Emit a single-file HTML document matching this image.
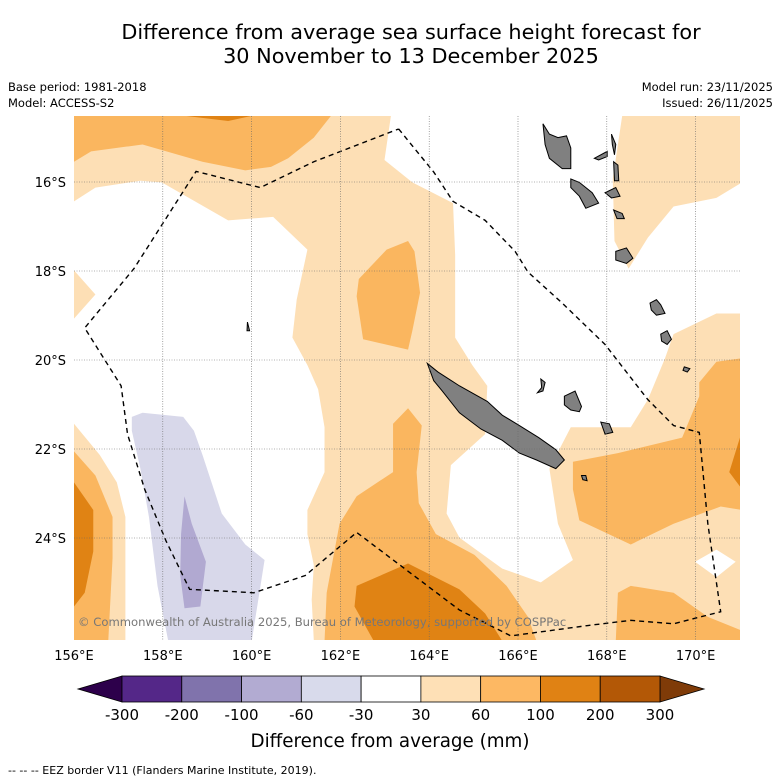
<!DOCTYPE html>
<html><head><meta charset="utf-8"><style>
body{margin:0;background:#fff;width:781px;height:781px;overflow:hidden;font-family:"DejaVu Sans","Liberation Sans",sans-serif}
svg{display:block}
</style></head><body>
<svg id="chart" width="781" height="781" viewBox="0 0 781 781" xmlns="http://www.w3.org/2000/svg" font-family="DejaVu Sans, Liberation Sans, sans-serif">
<text x="411" y="39" font-size="20.8" text-anchor="middle">Difference from average sea surface height forecast for</text>
<text x="411" y="63" font-size="20.8" text-anchor="middle">30 November to 13 December 2025</text>
<text x="8" y="91" font-size="11.5">Base period: 1981-2018</text>
<text x="8" y="107" font-size="11.5">Model: ACCESS-S2</text>
<text x="773" y="91" font-size="11.5" text-anchor="end">Model run: 23/11/2025</text>
<text x="773" y="107" font-size="11.5" text-anchor="end">Issued: 26/11/2025</text>
<defs><clipPath id="mapclip"><rect x="74" y="116" width="666" height="524"/></clipPath></defs>
<g clip-path="url(#mapclip)">
<rect x="74" y="116" width="666" height="524" fill="#fddfb5"/>
<g transform="translate(74,110) scale(0.42827,0.34483)">
<polygon fill="#ffffff" points="0,265 50,225 155,205 205,210 360,320 465,310 545,405 520,550 510,660 545,740 570,810 585,920 585,1050 545,1160 545,1230 560,1320 555,1420 560,1540 120,1540 120,1180 100,1080 60,1000 0,910 0,605 50,535 0,465"/>
<polygon fill="#ffffff" points="740,17 1280,17 1258,200 1262,380 1295,460 1340,370 1400,280 1500,255 1560,210 1560,590 1500,590 1400,650 1380,720 1340,840 1300,920 1160,920 1110,1040 1130,1200 1165,1305 1090,1370 1000,1330 900,1240 870,1170 880,1030 960,940 965,800 930,740 890,660 890,420 885,270 790,210 725,145"/>
<polygon fill="#ffffff" points="1450,1310 1500,1275 1545,1310 1500,1355"/>
<polygon fill="#fab65f" points="0,17 600,17 560,80 500,140 460,165 400,175 300,150 160,100 40,120 0,150"/>
<polygon fill="#e08314" points="260,17 415,17 360,32"/>
<polygon fill="#fab65f" points="665,490 730,405 780,380 795,410 808,530 790,640 780,695 675,665 660,540"/>
<polygon fill="#fab65f" points="0,990 50,1060 90,1180 90,1300 80,1540 0,1540"/>
<polygon fill="#e08314" points="0,1080 45,1160 45,1280 25,1400 0,1440"/>
<polygon fill="#fab65f" points="745,910 780,865 812,915 800,1050 805,1140 845,1230 935,1290 1010,1380 1060,1470 1080,1540 585,1540 590,1400 620,1200 660,1120 745,1050"/>
<polygon fill="#e08314" points="660,1380 780,1315 900,1390 960,1460 1000,1540 700,1540 655,1440"/>
<polygon fill="#fab65f" points="1165,1020 1270,995 1420,950 1460,830 1460,790 1500,730 1560,720 1560,1160 1510,1150 1400,1200 1300,1260 1180,1190 1165,1100"/>
<polygon fill="#e08314" points="1560,930 1530,1050 1560,1100"/>
<polygon fill="#fab65f" points="1270,1400 1300,1380 1400,1400 1480,1470 1560,1510 1560,1540 1265,1540"/>
<polygon fill="#d8d8ea" points="135,890 160,878 255,890 280,930 300,1000 345,1170 400,1260 445,1305 415,1540 220,1540 195,1380 175,1180 155,1040 135,930"/>
<polygon fill="#b1a9d1" points="258,1120 275,1200 308,1310 295,1440 258,1445 248,1350 250,1230"/>
<g fill="#808080" stroke="#000" stroke-width="1">
<polygon vector-effect="non-scaling-stroke" points="825,735 850,760 900,800 965,845 1000,885 1040,915 1085,950 1125,985 1145,1015 1125,1040 1080,1015 1040,995 1000,958 950,925 900,878 860,815 840,785"/>
<polygon vector-effect="non-scaling-stroke" points="1095,40 1110,70 1130,80 1150,75 1160,110 1160,170 1140,170 1110,140 1100,100"/>
<polygon vector-effect="non-scaling-stroke" points="1160,200 1180,210 1210,240 1225,270 1195,285 1180,250 1160,225"/>
<polygon vector-effect="non-scaling-stroke" points="1215,140 1245,120 1245,135 1225,145"/>
<polygon vector-effect="non-scaling-stroke" points="1255,70 1265,100 1262,130 1257,100"/>
<polygon vector-effect="non-scaling-stroke" points="1260,150 1270,160 1272,205 1262,205"/>
<polygon vector-effect="non-scaling-stroke" points="1240,240 1265,225 1275,250 1255,255"/>
<polygon vector-effect="non-scaling-stroke" points="1260,290 1280,300 1285,315 1268,315"/>
<polygon vector-effect="non-scaling-stroke" points="1265,410 1290,400 1305,430 1290,445 1265,435"/>
<polygon vector-effect="non-scaling-stroke" points="1145,830 1170,815 1185,860 1180,875 1160,870 1145,855"/>
<polygon vector-effect="non-scaling-stroke" points="1230,905 1250,910 1258,935 1240,940"/>
<polygon vector-effect="non-scaling-stroke" points="1345,560 1360,550 1370,565 1380,590 1360,595 1348,580"/>
<polygon vector-effect="non-scaling-stroke" points="1370,650 1385,640 1395,665 1385,680 1372,670"/>
<polygon vector-effect="non-scaling-stroke" points="1425,745 1438,750 1432,760 1422,755"/>
<polygon vector-effect="non-scaling-stroke" points="405,615 410,640 404,640"/>
<polygon vector-effect="non-scaling-stroke" points="1185,1060 1195,1060 1198,1075 1188,1072"/>
<polygon vector-effect="non-scaling-stroke" points="1090,780 1100,790 1095,815 1082,820 1092,805"/>
</g>
<polyline fill="none" stroke="#000" stroke-width="1.4" stroke-dasharray="5,4" vector-effect="non-scaling-stroke" points="758,55 840,180 885,265 960,320 1030,410 1060,470 1140,560 1240,680 1340,840 1400,915 1460,935 1480,1200 1510,1455 1400,1490 1300,1480 1200,1495 1020,1525 900,1450 660,1225 540,1350 420,1400 270,1390 215,1250 165,1100 125,940 110,800 25,632 140,460 285,178 435,225 560,150 758,55"/>
</g>
<g id="grid"></g>
<text x="78" y="626" font-size="11.6" fill="#777">© Commonwealth of Australia 2025, Bureau of Meteorology, supported by COSPPac</text>
</g>
<g id="axes"></g>
<g id="cbar"></g>
<text x="390" y="747" font-size="18.3" text-anchor="middle">Difference from average (mm)</text>
<text x="8" y="774" font-size="11">--  --  -- EEZ border V11 (Flanders Marine Institute, 2019).</text>
</svg>
<script>
const lonTicks = [156,158,160,162,164,166,168,170];
const latTicks = [16,18,20,22,24];
const cbarLabels = ["-300","-200","-100","-60","-30","30","60","100","200","300"];
const cbarColors = ["#542788","#8073ac","#b2abd2","#d8daeb","#ffffff","#fee0b6","#fdb863","#e08214","#b35806"];
const cbarLowExtend = "#2d004b";
const cbarHighExtend = "#7f3b08";
const NS="http://www.w3.org/2000/svg";
const lonX = lon => 74 + (lon-156)*44.4;
const latY = lat => 182 + (lat-16)*44.5;
function mk(tag, attrs, parent){const e=document.createElementNS(NS,tag);for(const k in attrs)e.setAttribute(k,attrs[k]);parent.appendChild(e);return e;}
const grid=document.getElementById('grid'), axes=document.getElementById('axes'), cbar=document.getElementById('cbar');
lonTicks.forEach(lon=>{
  const x=lonX(lon);
  if(lon>156){const l=mk('line',{x1:x,x2:x,y1:116,y2:640,stroke:'#666','stroke-width':0.6,'stroke-dasharray':'1,1.5'},grid);
  
  }
  const t=mk('text',{x:x,y:660,'font-size':13,'text-anchor':'middle'},axes);t.textContent=lon+'°E';
  
  
});
latTicks.forEach(lat=>{
  const y=latY(lat);
  const l=mk('line',{x1:74,x2:740,y1:y,y2:y,stroke:'#666','stroke-width':0.6,'stroke-dasharray':'1,1.5'},grid);
  
  
  const t=mk('text',{x:66,y:y+5,'font-size':13,'text-anchor':'end'},axes);t.textContent=lat+'°S';
  
  
});
const cx0=122, cx1=660, cy=676, ch=26, n=cbarColors.length, w=(cx1-cx0)/n;
const lo=mk('polygon',{points:`${cx0},${cy} ${cx0},${cy+ch} 78,${cy+ch/2}`,fill:cbarLowExtend,stroke:'#000','stroke-width':0.8},cbar);


const hi=mk('polygon',{points:`${cx1},${cy} ${cx1},${cy+ch} 704,${cy+ch/2}`,fill:cbarHighExtend,stroke:'#000','stroke-width':0.8},cbar);


cbarColors.forEach((c,i)=>{
  const r=mk('rect',{x:cx0+i*w,y:cy,width:w,height:ch,fill:c,stroke:'#000','stroke-width':0.8},cbar);
  
  
});
cbarLabels.forEach((s,i)=>{
  const t=mk('text',{x:cx0+i*w,y:720,'font-size':15,'text-anchor':'middle'},cbar);t.textContent=s;
  
  
});
</script>
</body></html>
